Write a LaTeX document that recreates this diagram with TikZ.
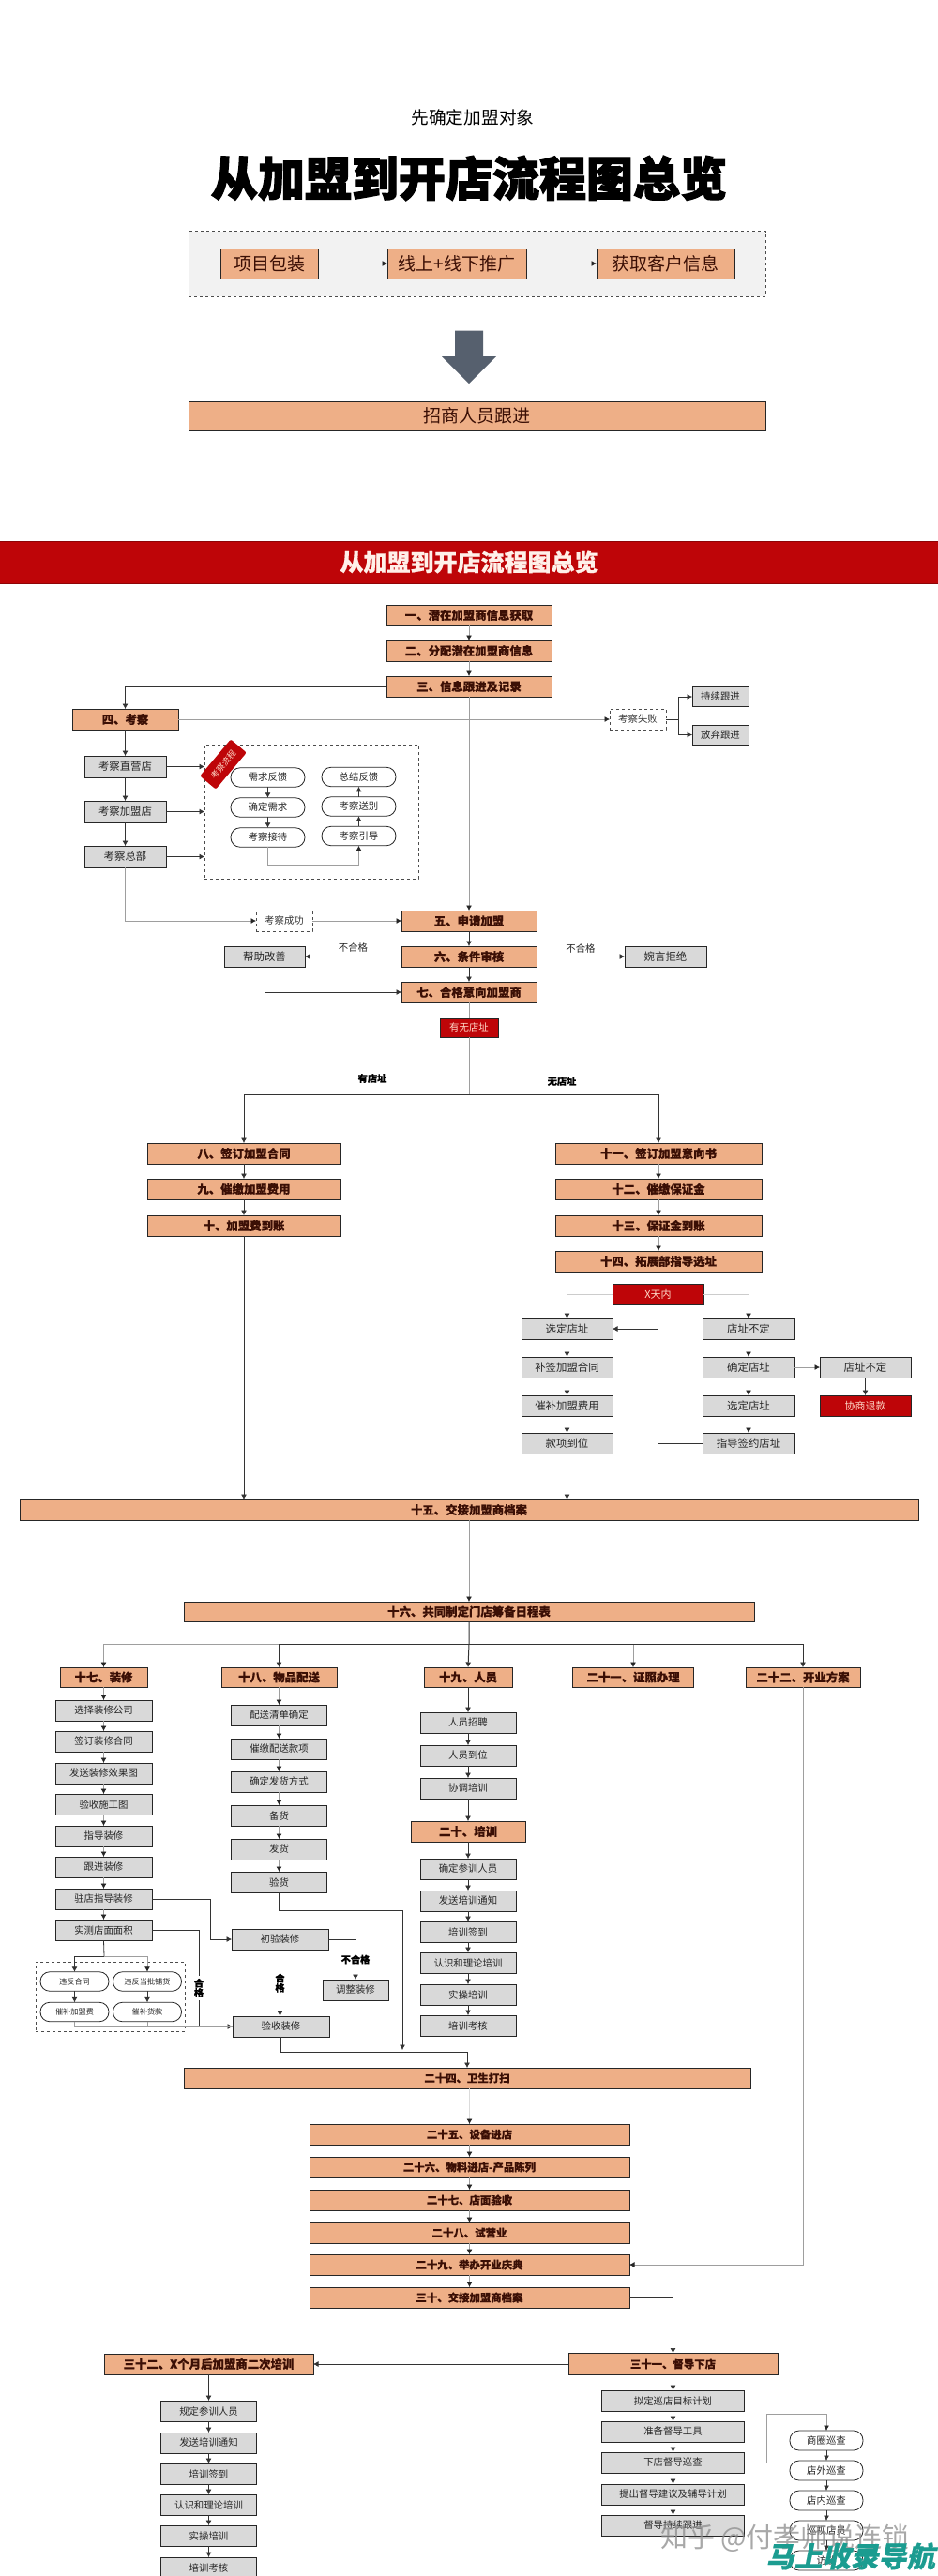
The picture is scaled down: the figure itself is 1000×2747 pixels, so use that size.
\documentclass[tikz,border=0pt]{standalone}
\usepackage{fontspec}
\usepackage{xcolor}
\usepackage{tikz}
\usetikzlibrary{arrows.meta,positioning}
\setmainfont[BoldFeatures={FakeBold=0.5}]{Noto Sans CJK SC}
\newfontfamily\titlefont[BoldFeatures={FakeBold=2.5}]{Noto Sans CJK SC}
\definecolor{headc}{HTML}{EEAF87}
\definecolor{headtxt}{HTML}{3B0F05}
\definecolor{greyc}{HTML}{D9D9D9}
\definecolor{redc}{HTML}{BE0508}
\definecolor{pinkc}{HTML}{FFD9C8}
\definecolor{slatec}{HTML}{56606E}
\definecolor{tealc}{HTML}{1B9C90}
\newcommand{\fsz}[1]{\fontsize{#1pt}{#1pt}\selectfont}

\begin{document}
\begin{tikzpicture}[x=1pt,y=-1pt,
  base/.style={draw=black!85, line width=0.8pt, inner sep=0pt, outer sep=0pt, align=center, minimum height=22pt},
  headbox/.style={base, fill=headc, text=headtxt, font=\fsz{12.4}\bfseries},
  lowhead/.style={headbox, font=\fsz{11.4}\bfseries},
  greybox/.style={base, fill=greyc, text=black!85, font=\fsz{10.4}},
  bigitem/.style={greybox, font=\fsz{11.4}},
  redbox/.style={base, fill=redc, text=pinkc, font=\fsz{11}},
  pillbox/.style={base, fill=white, rounded corners=10pt, minimum height=20.5pt, minimum width=79pt, text=black!85, font=\fsz{10.4}},
  tinypill/.style={pillbox, minimum width=73pt, font=\fsz{8.2}},
  notebox/.style={draw=black!70, dashed, line width=0.6pt, inner sep=0pt, outer sep=0pt, minimum height=22pt, minimum width=60pt, font=\fsz{10.4}, text=black!80},
  lbl/.style={font=\fsz{10.4}, text=black!85, inner sep=1pt},
  boldlbl/.style={font=\fsz{10.2}\bfseries, text=black, inner sep=1pt},
  vlbl/.style={boldlbl, fill=white, align=center, inner ysep=3pt},
  arr/.style={-{Latex[length=5.5pt,width=6pt]}, black!80, line width=0.7pt},
  lite/.style={-{Latex[length=5.5pt,width=6pt,color=black!85]}, black!38, line width=0.8pt},
  plain/.style={black!38, line width=0.8pt}]

\useasboundingbox (0,0) rectangle (1000,2747);
\fill[white] (0,0) rectangle (1000,2747);

% intro
\node[font=\fsz{18.7}] (intro) at (504,125) {先确定加盟对象};
\node[font=\titlefont\fsz{50}\bfseries] (maintitle) at (500,190) {从加盟到开店流程图总览};
\node[draw=black!70, dashed, fill=black!5, line width=0.6pt, minimum width=615pt, minimum height=69.5pt, inner sep=0pt] (promo) at (508.5,281.5) {};
\node[base, fill=headc, text=headtxt, font=\fsz{19}, minimum width=104pt, minimum height=32pt] (pack) at (287,281) {项目包装};
\node[base, fill=headc, text=headtxt, font=\fsz{19}, minimum width=148pt, minimum height=32pt, right=74pt of pack] (online) {线上+线下推广};
\node[base, fill=headc, text=headtxt, font=\fsz{19}, minimum width=147pt, minimum height=32pt, right=75pt of online] (leads) {获取客户信息};
\draw[lite] (pack) -- (online);
\draw[lite] (online) -- (leads);
\fill[slatec] (485,352.5) -- (515,352.5) -- (515,380) -- (529,380) -- (500,409) -- (471,380) -- (485,380) -- cycle;
\node[base, fill=headc, text=headtxt, font=\fsz{19}, minimum width=615pt, minimum height=31pt] (recruit) at (508.5,443.5) {招商人员跟进};

\node[fill=redc, draw=redc!75!black, line width=1pt, text=pinkc!40!white, font=\fsz{25}\bfseries, minimum width=1002pt, minimum height=45pt, inner sep=0pt] (band) at (500,599.5) {从加盟到开店流程图总览};

% first stage
\node[headbox, minimum width=176pt] (lead) at (500,656) {一、潜在加盟商信息获取};
\node[headbox, minimum width=176pt, below=16pt of lead] (assign) {二、分配潜在加盟商信息};
\node[headbox, minimum width=176pt, below=16pt of assign] (track) {三、信息跟进及记录};
\node[headbox, minimum width=113pt] (visit) at (133.5,767) {四、考察};
\node[bigitem, minimum width=87pt, minimum height=23pt, below=28pt of visit] (own) {考察直营店};
\node[bigitem, minimum width=87pt, minimum height=23pt, below=25pt of own] (partner) {考察加盟店};
\node[bigitem, minimum width=87pt, minimum height=23pt, below=25pt of partner] (hq) {考察总部};

\node[notebox, minimum width=228pt, minimum height=143pt] (tourbox) at (332,865.5) {};
\node[pillbox] (needfb) at (285.5,829) {需求反馈};
\node[pillbox, below=11.5pt of needfb] (needfix) {确定需求};
\node[pillbox, below=11.5pt of needfix] (welcome) {考察接待};
\node[pillbox] (summary) at (382.5,828.5) {总结反馈};
\node[pillbox, below=11pt of summary] (farewell) {考察送别};
\node[pillbox, below=11pt of farewell] (guide) {考察引导};
\node[fill=redc, text=pinkc, rounded corners=2pt, rotate=50, minimum width=51pt, minimum height=22pt, inner sep=0pt, font=\fsz{9}] (tourtag) at (238,815) {考察流程};

\draw[lite] (lead) -- (assign);
\draw[lite] (assign) -- (track);
\draw[arr] (track.west) -| (visit.north);
\draw[arr] (visit) -- (own);
\draw[arr] (own) -- (partner);
\draw[arr] (partner) -- (hq);
\draw[arr] (own.east) -- (own.east -| tourbox.west);
\draw[arr] (partner.east) -- (partner.east -| tourbox.west);
\draw[arr] (hq.east) -- (hq.east -| tourbox.west);
\draw[arr] (needfb) -- (needfix);
\draw[arr] (needfix) -- (welcome);
\draw[arr] (guide) -- (farewell);
\draw[arr] (farewell) -- (summary);
\draw[lite] (welcome.south) -- ++(0,19) -| (guide.south);

\node[notebox] (failed) at (680,767) {考察失败};
\node[greybox, minimum width=60pt, minimum height=21pt] (keep) at (768,743) {持续跟进};
\node[greybox, minimum width=60pt, minimum height=21pt] (drop) at (768,783.5) {放弃跟进};
\coordinate (failfork) at (723,767);
\draw[lite] (visit.east) -- (failed.west);
\draw[arr] (failed.east) -- (failfork) |- (keep.west);
\draw[arr] (failfork) |- (drop.west);

\node[notebox] (passed) at (303,982) {考察成功};
\node[headbox, minimum width=144pt] (apply) at (500,982) {五、申请加盟};
\node[headbox, minimum width=144pt, below=16pt of apply] (audit) {六、条件审核};
\node[headbox, minimum width=144pt, below=16pt of audit] (intent) {七、合格意向加盟商};
\node[bigitem, minimum width=86pt] (help) at (282,1020) {帮助改善};
\node[bigitem, minimum width=87pt] (reject) at (709.5,1020) {婉言拒绝};
\draw[lite] (track) -- (apply);
\draw[lite] (hq.south) |- (passed.west);
\draw[lite] (passed.east) -- (apply.west);
\draw[arr] (apply) -- (audit);
\draw[arr] (audit) -- (intent);
\draw[arr] (audit.west) -- node[lbl, above=3pt] {不合格} (help.east);
\draw[arr] (audit.east) -- node[lbl, above=2pt] {不合格} (reject.west);
\draw[arr] (help.south) |- (intent.west);

\node[redbox, minimum width=62pt, minimum height=20pt, font=\fsz{10.4}] (siteq) at (500,1096) {有无店址};
\coordinate (sitefork) at (500,1167);
\node[boldlbl] (withsite) at (397,1150) {有店址};
\node[boldlbl] (nosite) at (599,1153) {无店址};

% with a site
\node[headbox, minimum width=206pt] (sign) at (260,1230) {八、签订加盟合同};
\node[headbox, minimum width=206pt, below=16pt of sign] (dues) {九、催缴加盟费用};
\node[headbox, minimum width=206pt, below=17pt of dues] (paid) {十、加盟费到账};
% without a site
\node[headbox, minimum width=220pt] (letter) at (702,1230) {十一、签订加盟意向书};
\node[headbox, minimum width=220pt, below=16pt of letter] (deposit) {十二、催缴保证金};
\node[headbox, minimum width=220pt, below=17pt of deposit] (depositok) {十三、保证金到账};
\node[headbox, minimum width=220pt, below=16pt of depositok] (scout) {十四、拓展部指导选址};
\node[redbox, minimum width=97pt] (xdays) at (701.5,1380) {X天内};
\node[bigitem, minimum width=97pt] (chosen) at (604.5,1417) {选定店址};
\node[bigitem, minimum width=97pt, below=19pt of chosen] (resign) {补签加盟合同};
\node[bigitem, minimum width=97pt, below=19pt of resign] (redues) {催补加盟费用};
\node[bigitem, minimum width=97pt, below=18pt of redues] (arrived) {款项到位};
\node[bigitem, minimum width=98pt] (open) at (798,1417) {店址不定};
\node[bigitem, minimum width=98pt, below=19pt of open] (fix) {确定店址};
\node[bigitem, minimum width=98pt, below=19pt of fix] (pick) {选定店址};
\node[bigitem, minimum width=98pt, below=18pt of pick] (signsite) {指导签约店址};
\node[bigitem, minimum width=97pt, right=27pt of fix] (open2) {店址不定};
\node[redbox, minimum width=97pt, below=19pt of open2] (refund) {协商退款};

\draw[plain] (intent.south) -- (siteq.north);
\draw[plain] (siteq.south) -- (sitefork);
\draw[arr] (sitefork) -| (sign.north);
\draw[arr] (sitefork) -| (letter.north);
\draw[arr] (sign) -- (dues);
\draw[arr] (dues) -- (paid);
\draw[lite] (letter) -- (deposit);
\draw[lite] (deposit) -- (depositok);
\draw[lite] (depositok) -- (scout);
\draw[arr] (scout.south -| chosen) -- (chosen.north);
\draw[lite] (scout.south -| open) -- (open.north);
\draw[plain, black!20] (chosen |- xdays) -- (xdays.west);
\draw[plain, black!20] (xdays.east) -- (open |- xdays);
\draw[arr] (chosen) -- (resign);
\draw[arr] (resign) -- (redues);
\draw[arr] (redues) -- (arrived);
\draw[lite] (open) -- (fix);
\draw[lite] (fix) -- (pick);
\draw[lite] (pick) -- (signsite);
\draw[lite] (fix) -- (open2);
\draw[arr] (open2) -- (refund);
\draw[arr] (signsite.west) -- ++(-48,0) |- (chosen.east);

% shared stage
\node[headbox, minimum width=958pt] (archive) at (500,1610) {十五、交接加盟商档案};
\node[headbox, minimum width=608pt, minimum height=21pt] (plan) at (500,1718.5) {十六、共同制定门店筹备日程表};
\coordinate (planfork) at (500,1753);
\draw[arr] (paid.south) -- (paid.south |- archive.north);
\draw[arr] (arrived.south) -- (arrived.south |- archive.north);
\draw[lite] (archive) -- (plan);

\node[headbox, minimum width=93pt, minimum height=21pt] (deco) at (110.5,1788.5) {十七、装修};
\node[headbox, minimum width=123pt, minimum height=21pt] (goods) at (297.5,1788.5) {十八、物品配送};
\node[headbox, minimum width=94pt, minimum height=21pt] (staff) at (499,1788.5) {十九、人员};
\node[headbox, minimum width=129pt, minimum height=21pt] (license) at (675,1788.5) {二十一、证照办理};
\node[headbox, minimum width=122pt, minimum height=21pt] (opening) at (856,1788.5) {二十二、开业方案};
\draw[arr, line width=1pt] (plan.south) -- (planfork) -- (staff.north);
\draw[lite] (planfork) -| (deco.north);
\draw[arr] (planfork) -| (goods.north);
\draw[lite] (planfork) -| (license.north);
\draw[arr] (planfork) -| (opening.north);

\node[greybox, minimum width=103pt, below=14pt of deco] (d1) {选择装修公司};
\node[greybox, minimum width=103pt, below=11pt of d1] (d2) {签订装修合同};
\node[greybox, minimum width=103pt, below=12pt of d2] (d3) {发送装修效果图};
\node[greybox, minimum width=103pt, below=11pt of d3] (d4) {验收施工图};
\node[greybox, minimum width=103pt, below=12pt of d4] (d5) {指导装修};
\node[greybox, minimum width=103pt, below=11pt of d5] (d6) {跟进装修};
\node[greybox, minimum width=103pt, below=12pt of d6] (onsite) {驻店指导装修};
\node[greybox, minimum width=103pt, below=11pt of onsite] (measure) {实测店面面积};
\draw[lite] (deco) -- (d1);
\draw[lite] (d1) -- (d2);
\draw[lite] (d2) -- (d3);
\draw[lite] (d3) -- (d4);
\draw[lite] (d4) -- (d5);
\draw[lite] (d5) -- (d6);
\draw[lite] (d6) -- (onsite);
\draw[lite] (onsite) -- (measure);

\node[greybox, minimum width=102pt, below=19pt of goods] (g1) {配送清单确定};
\node[greybox, minimum width=102pt, below=14pt of g1] (g2) {催缴配送款项};
\node[greybox, minimum width=102pt, below=13pt of g2] (g3) {确定发货方式};
\node[greybox, minimum width=102pt, below=14pt of g3] (g4) {备货};
\node[greybox, minimum width=102pt, below=14pt of g4] (g5) {发货};
\node[greybox, minimum width=102pt, below=13pt of g5] (g6) {验货};
\draw[lite] (goods) -- (g1);
\draw[lite] (g1) -- (g2);
\draw[lite] (g2) -- (g3);
\draw[lite] (g3) -- (g4);
\draw[lite] (g4) -- (g5);
\draw[lite] (g5) -- (g6);

\node[greybox, minimum width=102pt, below=27pt of staff] (s1) {人员招聘};
\node[greybox, minimum width=102pt, below=13pt of s1] (s2) {人员到位};
\node[greybox, minimum width=102pt, below=13pt of s2] (s3) {协调培训};
\node[headbox, minimum width=122pt, below=24pt of s3] (train) {二十、培训};
\node[greybox, minimum width=102pt, below=18pt of train] (t1) {确定参训人员};
\node[greybox, minimum width=102pt, below=12pt of t1] (t2) {发送培训通知};
\node[greybox, minimum width=102pt, below=11pt of t2] (t3) {培训签到};
\node[greybox, minimum width=102pt, below=11pt of t3] (t4) {认识和理论培训};
\node[greybox, minimum width=102pt, below=12pt of t4] (t5) {实操培训};
\node[greybox, minimum width=102pt, below=11pt of t5] (t6) {培训考核};
\draw[arr] (staff) -- (s1);
\draw[arr] (s1) -- (s2);
\draw[arr] (s2) -- (s3);
\draw[arr] (s3) -- (train);
\draw[arr] (train) -- (t1);
\draw[arr] (t1) -- (t2);
\draw[arr] (t2) -- (t3);
\draw[arr] (t3) -- (t4);
\draw[arr] (t4) -- (t5);
\draw[arr] (t5) -- (t6);

% decoration checks
\node[greybox, minimum width=103pt] (firstcheck) at (298.5,2068) {初验装修};
\node[greybox, minimum width=103pt] (finalcheck) at (299.5,2161) {验收装修};
\node[greybox, minimum width=70pt] (rework) at (379,2122) {调整装修};
\node[notebox, minimum width=159pt, minimum height=74pt] (penalty) at (117.5,2129) {};
\node[tinypill] (breach) at (79.5,2113) {违反合同};
\node[tinypill] (badstock) at (157,2113) {违反当批铺货};
\node[tinypill, below=12pt of breach] (payfee) {催补加盟费};
\node[tinypill, below=12pt of badstock] (paystock) {催补货款};
\coordinate (measfork) at (111,2086);
\coordinate (goodsend) at (429,2186);

\draw[arr] (onsite.east) -- ++(62,0) |- (firstcheck.west);
\draw[arr] (measure.east) -- ++(50,0) |- node[vlbl, pos=0.3] {合\\格} (finalcheck.west);
\draw[arr] (firstcheck.south) -- node[vlbl] {合\\格} (firstcheck.south |- finalcheck.north);
\draw[arr] (firstcheck.east) -| node[boldlbl, fill=white, pos=0.75] {不合格} (rework.north);
\draw[plain, black!80] (measure.south) -- (measfork);
\draw[arr] (measfork) -| (breach.north);
\draw[lite] (measfork) -| (badstock.north);
\draw[arr] (breach) -- (payfee);
\draw[arr] (badstock) -- (paystock);
\draw[plain] (payfee.south) |- (finalcheck.west);
\draw[plain] (paystock.south) |- (finalcheck.west);
\draw[arr] (g6.south) -- ++(0,19) -| (goodsend);

% final stage
\node[lowhead, minimum width=604pt] (clean) at (498,2216) {二十四、卫生打扫};
\node[lowhead, minimum width=341pt] (device) at (500.5,2276) {二十五、设备进店};
\node[lowhead, minimum width=341pt, below=13pt of device] (material) {二十六、物料进店-产品陈列};
\node[lowhead, minimum width=341pt, below=13pt of material] (shopcheck) {二十七、店面验收};
\node[lowhead, minimum width=341pt, below=13pt of shopcheck] (trial) {二十八、试营业};
\node[lowhead, minimum width=341pt, below=12pt of trial] (ceremony) {二十九、举办开业庆典};
\node[lowhead, minimum width=341pt, below=13pt of ceremony] (handover) {三十、交接加盟商档案};
\draw[arr] (finalcheck.south) -- ++(0,16) -| (clean.north);
\draw[lite, black!14] (clean.south -| device) -- (device.north);
\draw[lite] (device) -- (material);
\draw[lite] (material) -- (shopcheck);
\draw[lite] (shopcheck) -- (trial);
\draw[lite] (trial) -- (ceremony);
\draw[lite] (ceremony) -- (handover);
\draw[lite] (opening.south) |- (ceremony.east);

\node[lowhead, minimum width=223pt, minimum height=23pt] (super) at (717.5,2521) {三十一、督导下店};
\node[headbox, minimum width=223pt, minimum height=22pt] (second) at (222.5,2521) {三十二、X个月后加盟商二次培训};
\draw[arr] (handover.east) -| (super.north);
\draw[arr] (super.west) -- (second.east);
\node[greybox, minimum width=102pt, below=28pt of second] (r1) {规定参训人员};
\node[greybox, minimum width=102pt, below=12pt of r1] (r2) {发送培训通知};
\node[greybox, minimum width=102pt, below=11pt of r2] (r3) {培训签到};
\node[greybox, minimum width=102pt, below=11pt of r3] (r4) {认识和理论培训};
\node[greybox, minimum width=102pt, below=11pt of r4] (r5) {实操培训};
\node[greybox, minimum width=102pt, below=12pt of r5] (r6) {培训考核};
\draw[arr] (second) -- (r1);
\draw[arr] (r1) -- (r2);
\draw[arr] (r2) -- (r3);
\draw[arr] (r3) -- (r4);
\draw[arr] (r4) -- (r5);
\draw[arr] (r5) -- (r6);

\node[greybox, minimum width=152pt, below=16.5pt of super] (u1) {拟定巡店目标计划};
\node[greybox, minimum width=152pt, below=11pt of u1] (u2) {准备督导工具};
\node[greybox, minimum width=152pt, below=11pt of u2] (inspect) {下店督导巡查};
\node[greybox, minimum width=152pt, below=12pt of inspect] (u4) {提出督导建议及辅导计划};
\node[greybox, minimum width=152pt, below=11pt of u4] (u5) {督导持续跟进};
\draw[arr] (super) -- (u1);
\draw[arr] (u1) -- (u2);
\draw[arr] (u2) -- (inspect);
\draw[arr] (inspect) -- (u4);
\draw[arr] (u4) -- (u5);

\node[pillbox, minimum width=78pt, minimum height=21pt] (c1) at (881,2602.5) {商圈巡查};
\node[pillbox, minimum width=78pt, minimum height=21pt, below=11pt of c1] (c2) {店外巡查};
\node[pillbox, minimum width=78pt, minimum height=21pt, below=11pt of c2] (c3) {店内巡查};
\node[pillbox, minimum width=78pt, minimum height=21pt, below=11pt of c3] (c4) {巡视店员};
\node[pillbox, minimum width=78pt, minimum height=21pt, below=11pt of c4] (c5) {访谈};
\draw[lite] (inspect.east) -- ++(24,0) -- ++(0,-52) -| (c1.north);
\draw[arr] (c1) -- (c2);
\draw[arr] (c2) -- (c3);
\draw[arr] (c3) -- (c4);
\draw[arr] (c4) -- (c5);

% stamped marks
\node[text=black!45, opacity=0.75, font=\fsz{29}] (zhihu) at (837,2707) {知乎 @付孝师说连锁};
\node[text=tealc, font=\fsz{30}\bfseries, xslant=0.2, transform shape] (navmark) at (909,2726) {马上收录导航};
\end{tikzpicture}
\end{document}
